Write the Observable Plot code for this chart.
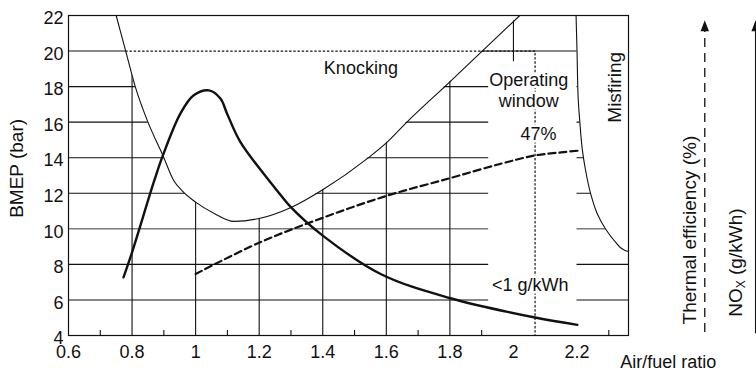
<!DOCTYPE html>
<html><head><meta charset="utf-8">
<script src="https://cdn.jsdelivr.net/npm/d3@7"></script>
<script src="https://cdn.jsdelivr.net/npm/@observablehq/plot@0.6"></script>
<style>
html,body{margin:0;padding:0;background:#fff;}
</style>
</head><body>
<div id="chart"></div>
<script>
// ---- axes / ticks ----
const xTicks = [0.6, 0.8, 1, 1.2, 1.4, 1.6, 1.8, 2, 2.2];
const xMinorTicks = [0.7, 0.9, 1.1, 1.3, 1.5, 1.7, 1.9, 2.1, 2.3];
const yTicks = [4, 6, 8, 10, 12, 14, 16, 18, 20, 22];
const gridX = [0.8, 1, 1.2, 1.4, 1.6, 1.8, 2];
const gridY = [6, 8, 12, 14, 16, 18, 20];
const gridYGray = [10];
const xDomain = [0.6, 2.362];
const yDomain = [4, 22];

// ---- knocking limit (thin U curve) ----
const knockX = [0.75, 0.78, 0.81, 0.85, 0.897, 0.931, 0.957, 1.00, 1.06, 1.12, 1.20, 1.30, 1.40, 1.54, 1.60, 1.66, 1.80, 1.90, 2.02];
const knockY = [22, 20, 18, 16, 14.13, 12.72, 12.15, 11.5, 10.85, 10.42, 10.58, 11.2, 12.2, 13.95, 14.83, 15.92, 18.27, 19.97, 22];

// ---- misfiring limit ----
const misX = [2.197, 2.200, 2.204, 2.2085, 2.217, 2.227, 2.243, 2.264, 2.290, 2.322, 2.348, 2.362];
const misY = [22, 20, 17.23, 16.10, 14.41, 13.28, 11.97, 10.84, 9.99, 9.24, 8.81, 8.72];

// ---- NOx (thick solid) ----
const noxX = [0.773, 0.80, 0.87, 0.897, 0.952, 0.994, 1.042, 1.078, 1.099, 1.141, 1.256, 1.298, 1.40, 1.582, 1.799, 2.068, 2.201];
const noxY = [7.27, 8.68, 12.72, 14.13, 16.48, 17.51, 17.79, 17.33, 16.48, 14.88, 12.16, 11.25, 9.62, 7.46, 6.11, 5.01, 4.60];

// ---- Thermal efficiency (thick dashed) ----
const effX = [1.0, 1.2, 1.4, 1.6, 1.8, 1.96, 2.068, 2.15, 2.212];
const effY = [7.46, 9.22, 10.62, 11.85, 12.85, 13.66, 14.13, 14.3, 14.41];

// ---- operating point / window ----
const opX = 2.068, opY = 20;
const windowBox = {x1: 1.922, x2: 2.2, y1: 4, y2: 19.4};

// ---- labels ----
const labels = [
  {x: 1.52, y: 19.06, t: "Knocking"},
  {x: 2.048, y: 17.82, t: "Operating\nwindow"},
  {x: 2.079, y: 15.39, t: "47%"},
  {x: 2.053, y: 6.90, t: "<1 g/kWh"}
];
const rotLabels = [
  {x: 2.318, y: 17.96, t: "Misfiring"},
  {x: 0.438, y: 13.4, t: "BMEP (bar)"},
  {x: 2.555, y: 9.93, t: "Thermal efficiency (%)"},
  {x: 2.70, y: 8.10, t: "NOX (g/kWh)"}
];
const xTitle = {x: 2.487, y: 2.5, t: "Air/fuel ratio"};
const arrows = [
  {x: 2.602, y1: 4.17, y2: 21.2, tip: 21.735, dash: "9,6"},
  {x: 2.762, y1: 4.1, y2: 21.2, tip: 21.735, dash: null}
];

const pts = (xs, ys) => xs.map((x, i) => ({x, y: ys[i]}));
const knock = pts(knockX, knockY);
const misAsc = pts(misX, misY).reverse();
const nox = pts(noxX, noxY);
const eff = pts(effX, effY);
const knockLeftAt20 = knockX[knockY.indexOf(opY)];
const dotted = [{x: knockLeftAt20, y: opY}, {x: opX, y: opY}, {x: opX, y: yDomain[0]}];

const arrowHead = {
  draw(ctx) { ctx.moveTo(0, 0); ctx.lineTo(4.2, 11); ctx.lineTo(-4.2, 11); ctx.closePath(); }
};

const ink = "#111";
const plot = Plot.plot({
  width: 756, height: 371,
  marginLeft: 68, marginRight: 128, marginTop: 15, marginBottom: 36,
  x: {domain: xDomain},
  y: {domain: yDomain},
  style: {fontFamily: "'Liberation Sans', Arial, sans-serif", fontSize: "18px", color: ink, background: "#fff", overflow: "visible"},
  marks: [
    Plot.ruleY(gridY, {stroke: ink, strokeWidth: 1.1}),
    Plot.ruleY(gridYGray, {stroke: "#7a7a7a", strokeWidth: 1.5}),
    Plot.ruleX(gridX, {stroke: ink, strokeWidth: 1.1}),
    Plot.tickX(xMinorTicks, {x: d => d, insetTop: 315, stroke: ink, strokeWidth: 1.1}),
    Plot.areaY(knock, {x: "x", y1: "y", y2: () => yDomain[1], fill: "white", curve: "monotone-x"}),
    Plot.areaX(misAsc, {y: "y", x1: "x", x2: () => xDomain[1], fill: "white", curve: "monotone-y"}),
    Plot.rect([windowBox], {x1: "x1", x2: "x2", y1: "y1", y2: "y2", fill: "white"}),
    Plot.line(dotted, {x: "x", y: "y", stroke: ink, strokeWidth: 1.2, strokeDasharray: "1.6,2.6"}),
    Plot.line(knock, {x: "x", y: "y", stroke: ink, strokeWidth: 1.1, curve: "monotone-x"}),
    Plot.line(misAsc, {x: "x", y: "y", stroke: ink, strokeWidth: 1.1, curve: "monotone-y"}),
    Plot.line(nox, {x: "x", y: "y", stroke: ink, strokeWidth: 2.4, curve: "catmull-rom"}),
    Plot.line(eff, {x: "x", y: "y", stroke: ink, strokeWidth: 2.2, strokeDasharray: "7,4", curve: "catmull-rom"}),
    Plot.text(labels, {x: "x", y: "y", text: "t", fill: ink, stroke: "white", strokeWidth: 5, paintOrder: "stroke", lineHeight: 1.15}),
    Plot.text(rotLabels, {x: "x", y: "y", text: "t", rotate: -90, fill: ink, fontSize: 19}),
    Plot.text([xTitle], {x: "x", y: "y", text: "t", fill: ink}),
    Plot.ruleX(arrows.filter(a => a.dash), {x: "x", y1: "y1", y2: "y2", stroke: ink, strokeWidth: 1.3, strokeDasharray: "9,6"}),
    Plot.ruleX(arrows.filter(a => !a.dash), {x: "x", y1: "y1", y2: "y2", stroke: ink, strokeWidth: 1.3}),
    Plot.dot(arrows, {x: "x", y: "tip", symbol: arrowHead, fill: ink, stroke: "none", r: 3}),
    Plot.frame({stroke: ink, strokeWidth: 1.2}),
    Plot.axisX(xTicks, {tickSize: 0, tickPadding: 10, tickFormat: d => String(d), label: null, fill: ink}),
    Plot.axisY(yTicks, {tickSize: 0, tickPadding: 5, dy: 3, label: null, fill: ink})
  ]
});

d3.select(plot).selectAll("text").filter(function() { return this.textContent === "NOX (g/kWh)"; }).each(function() {
  const t = d3.select(this);
  t.text("");
  t.append("tspan").text("NO");
  t.append("tspan").attr("font-size", "12px").attr("dy", "3").text("X");
  t.append("tspan").attr("dy", "-3").text(" (g/kWh)");
});

document.getElementById("chart").appendChild(plot);
</script>
</body></html>
